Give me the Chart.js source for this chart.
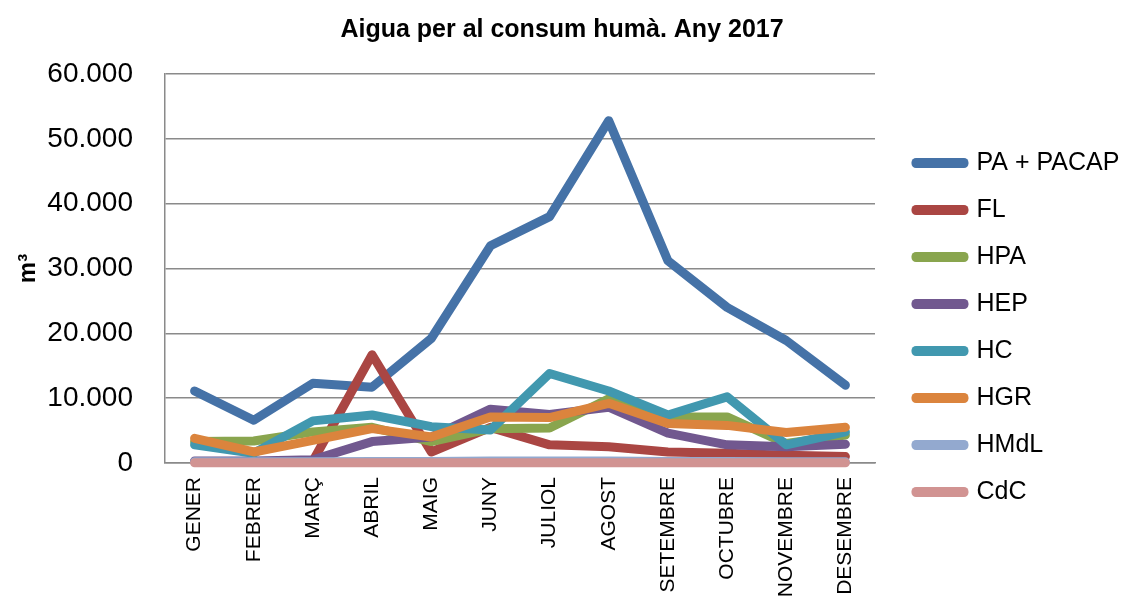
<!DOCTYPE html>
<html>
<head>
<meta charset="utf-8">
<script src="https://cdn.jsdelivr.net/npm/chart.js@4/dist/chart.umd.min.js"></script>
<style>
  html, body { margin: 0; padding: 0; background: #fff; }
  #wrap { width: 1124px; height: 601px; }
</style>
</head>
<body>
<div id="wrap"><canvas id="chart"></canvas></div>
<script>
// Dades
const mesos = ["GENER", "FEBRER", "MARÇ", "ABRIL", "MAIG", "JUNY", "JULIOL", "AGOST", "SETEMBRE", "OCTUBRE", "NOVEMBRE", "DESEMBRE"];
const paPacap = [11100, 6600, 12300, 11700, 19200, 33500, 38000, 52800, 31200, 24000, 18900, 12000];
const fl = [200, 200, 300, 16700, 1700, 5500, 2800, 2500, 1700, 1500, 1200, 1000];
const hpa = [3300, 3400, 4800, 5500, 3300, 5300, 5400, 9900, 7100, 7100, 3000, 4300];
const hep = [300, 300, 500, 3300, 4000, 8300, 7500, 8600, 4600, 2800, 2500, 2900];
const hc = [2800, 1500, 6500, 7400, 5600, 5100, 13800, 11100, 7400, 10200, 2800, 4800];
const hgr = [3800, 1700, 3500, 5300, 4000, 7100, 7000, 9200, 6100, 5800, 4700, 5500];
const hmdl = [200, 200, 200, 250, 250, 300, 300, 300, 250, 250, 200, 200];
const cdc = [30, 30, 30, 30, 30, 30, 30, 30, 30, 30, 30, 30];

const yTicks = [0, 10000, 20000, 30000, 40000, 50000, 60000];

const series = [
    { label: "PA + PACAP", data: paPacap, color: "#4572A7" },
    { label: "FL", data: fl, color: "#AA4643" },
    { label: "HPA", data: hpa, color: "#89A54E" },
    { label: "HEP", data: hep, color: "#71588F" },
    { label: "HC", data: hc, color: "#4198AF" },
    { label: "HGR", data: hgr, color: "#DB843D" },
    { label: "HMdL", data: hmdl, color: "#93A9CF" },
    { label: "CdC", data: cdc, color: "#D19392" }
];

const FONT = "'Liberation Sans', Arial, sans-serif";
const GRID = "#8a8a8a";

function miles(v) {
    return String(v).replace(/\B(?=(\d{3})+(?!\d))/g, ".");
}

new Chart(document.getElementById("chart"), {
    type: "line",
    data: {
        labels: mesos,
        datasets: series.map((s, i) => ({
            label: s.label,
            data: s.data,
            borderColor: s.color,
            backgroundColor: s.color,
            borderWidth: 9,
            borderJoinStyle: "round",
            borderCapStyle: "round",
            pointRadius: 0,
            tension: 0,
            clip: false,
            yAxisID: "y",
            // Excel dibuixa les darreres sèries per sobre
            order: series.length - i
        }))
    },
    options: {
        responsive: true,
        maintainAspectRatio: false,
        animation: false,
        layout: { padding: 0 },
        plugins: {
            title: {
                display: true,
                text: "Aigua per al consum humà. Any 2017",
                color: "#000",
                font: { family: FONT, size: 25, weight: "bold" },
                padding: { top: 15, bottom: 29 }
            },
            legend: {
                position: "right",
                maxWidth: 230,
                title: {
                    display: true,
                    text: " ",
                    font: { family: FONT, size: 20 },
                    padding: { top: 30, bottom: 0 }
                },
                labels: {
                    color: "#000",
                    font: { family: FONT, size: 25 },
                    boxWidth: 48,
                    boxHeight: 1,
                    padding: 22,
                    sort: (a, b) => a.datasetIndex - b.datasetIndex
                }
            },
            tooltip: { enabled: false }
        },
        scales: {
            x: {
                offset: true,
                grid: { display: false, drawTicks: false },
                border: { display: true, color: GRID, width: 1.5 },
                ticks: {
                    color: "#000",
                    font: { family: FONT, size: 21 },
                    minRotation: 90,
                    maxRotation: 90,
                    autoSkip: false,
                    padding: 14
                },
                afterFit: (scale) => { scale.height = 138; }
            },
            y: {
                min: 0,
                max: 60000,
                afterBuildTicks: (scale) => { scale.ticks = yTicks.map(v => ({ value: v })); },
                grid: { color: GRID, lineWidth: 1.5, drawTicks: false },
                border: { display: true, color: GRID, width: 1.5 },
                ticks: {
                    color: "#000",
                    font: { family: FONT, size: 28 },
                    padding: 32,
                    callback: (v) => miles(v)
                },
                title: {
                    display: true,
                    text: "m³",
                    color: "#000",
                    font: { family: FONT, size: 24, weight: "bold" },
                    padding: { top: 14, bottom: 0 }
                },
                afterFit: (scale) => { scale.width = 165; }
            },
            // espai buit entre l'àrea del gràfic i la llegenda
            yDreta: {
                position: "right",
                min: 0,
                max: 60000,
                grid: { display: false, drawTicks: false },
                border: { display: false },
                ticks: { display: false },
                afterFit: (scale) => { scale.width = 19; }
            }
        }
    }
});
</script>
</body>
</html>
